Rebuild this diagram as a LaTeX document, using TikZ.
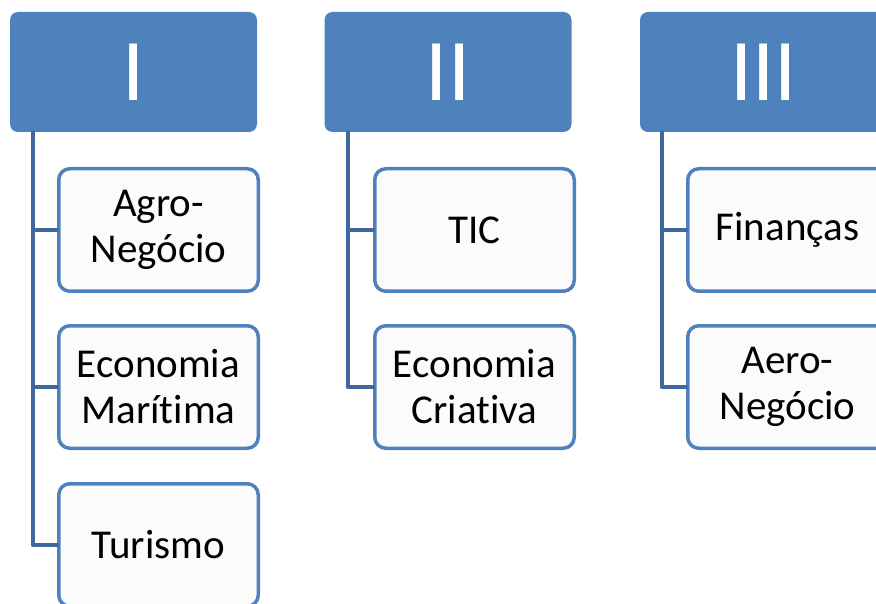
\documentclass[tikz,border=0pt]{standalone}
\usepackage{fontspec}
\setmainfont{Carlito}[Ligatures=NoCommon]
\usetikzlibrary{positioning}
\definecolor{hdrblue}{HTML}{4F81BD}
\definecolor{linkblue}{HTML}{41689E}
\begin{document}
\begin{tikzpicture}[x=1pt, y=-1pt, line join=round, line cap=round,
    head/.style={fill=hdrblue, rounded corners=8pt, minimum width=247pt, minimum height=120pt, inner sep=0pt, text=white, font=\fontsize{88}{90}\selectfont},
    item/.style={draw=hdrblue, line width=3.5pt, fill=white!98.5!black, rounded corners=11pt, minimum width=199.5pt, minimum height=122.5pt, inner sep=0pt, align=center, font=\fontsize{41}{46}\selectfont},
    link/.style={draw=linkblue, line width=4.5pt}]
    \useasboundingbox (0,0) rectangle (876,604);
    \clip (0,0) rectangle (876,604);
    % headers
    \node[head] (h1) at (133.5,72) {I};
    \node[head] (h2) at (448,72) {II};
    \node[head] (h3) at (763.5,72) {III};
    \coordinate (t1) at (33,133);
    \coordinate (t2) at (348,133);
    \coordinate (t3) at (662,133);
    % items
    \node[item] (a1) at (158.5,230) {Agro-\\Negócio};
    \node[item] (a2) at (158.5,387) {Economia\\Marítima};
    \node[item] (a3) at (158.5,545) {Turismo};
    \node[item] (b1) at (474.5,230) {TIC};
    \node[item] (b2) at (474.5,387) {Economia\\Criativa};
    \node[item] (c1) at (787.5,230) {Finanças};
    \node[item] (c2) at (787.5,387) {Aero-\\Negócio};
    % connectors
    \draw[link] (t1) |- (a1.west);
    \draw[link] (t1) |- (a2.west);
    \draw[link] (t1) |- (a3.west);
    \draw[link] (t2) |- (b1.west);
    \draw[link] (t2) |- (b2.west);
    \draw[link] (t3) |- (c1.west);
    \draw[link] (t3) |- (c2.west);
\end{tikzpicture}
\end{document}
